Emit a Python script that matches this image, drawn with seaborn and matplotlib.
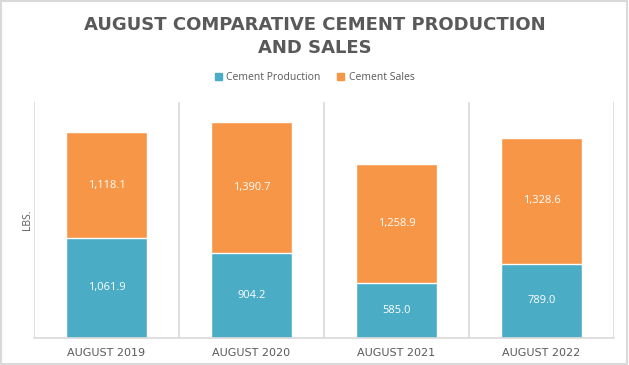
import numpy as np
import pandas as pd
import matplotlib
matplotlib.use("Agg")
import matplotlib.pyplot as plt
import seaborn as sns
from matplotlib.patches import Patch, Rectangle

months = ["AUGUST 2019", "AUGUST 2020", "AUGUST 2021", "AUGUST 2022"]
production = [1061.9, 904.2, 585.0, 789.0]
sales = [1118.1, 1390.7, 1258.9, 1328.6]

teal = "#4BACC6"
orange = "#F79646"
grey = "#595959"

sns.set_theme(style="white")
plt.rcParams["font.family"] = ["Open Sans", "DejaVu Sans"]

df = pd.DataFrame({"Month": months, "Production": production, "Sales": sales})
df["Total"] = df["Production"] + df["Sales"]

fig = plt.figure(figsize=(6.29, 3.65), dpi=100)
ax = fig.add_axes([0.054, 0.074, 0.922, 0.646])

# stacked: total in orange, production over it in teal
sns.barplot(data=df, x="Month", y="Total", color=orange, width=0.56, ax=ax, saturation=1)
sns.barplot(data=df, x="Month", y="Production", color=teal, width=0.56, ax=ax, saturation=1)

for i, row in df.iterrows():
    ax.text(i, row["Production"] / 2, f"{row['Production']:,.1f}", ha="center", va="center",
            color="white", fontsize=8)
    ax.text(i, row["Production"] + row["Sales"] / 2, f"{row['Sales']:,.1f}", ha="center",
            va="center", color="white", fontsize=8)

ax.set_ylim(0, 2500)
ax.set_xlim(-0.5, len(months) - 0.5)
ax.set_yticks([])
ax.set_xlabel("")
ax.set_ylabel("LBS.", fontsize=7.5, color=grey, labelpad=1)
for b in np.arange(-0.5, len(months), 1.0):
    ax.axvline(b, color="#D9D9D9", lw=1.2, zorder=0)
for s in ["top", "right", "left"]:
    ax.spines[s].set_visible(False)
ax.spines["bottom"].set_color("#D9D9D9")
ax.spines["bottom"].set_linewidth(1.2)
ax.tick_params(axis="x", length=0, pad=7, labelsize=8, labelcolor=grey)
for lab in ax.get_xticklabels():
    lab.set_family("DejaVu Sans")

fig.text(0.5, 0.9, "AUGUST COMPARATIVE CEMENT PRODUCTION\nAND SALES", ha="center", va="center",
         fontsize=13, fontweight="bold", color=grey, linespacing=1.35, family="DejaVu Sans")

handles = [Patch(color=teal, label="Cement Production"), Patch(color=orange, label="Cement Sales")]
fig.legend(handles=handles, loc="center", bbox_to_anchor=(0.5, 0.787), ncol=2, frameon=False,
           fontsize=7.5, handlelength=0.7, handleheight=0.7, columnspacing=1.6, handletextpad=0.4,
           labelcolor=grey)

fig.patches.append(Rectangle((0.002, 0.003), 0.995, 0.994, transform=fig.transFigure,
                             fill=False, edgecolor="#D9D9D9", lw=1.5))

fig.savefig("out.png", dpi=100)
